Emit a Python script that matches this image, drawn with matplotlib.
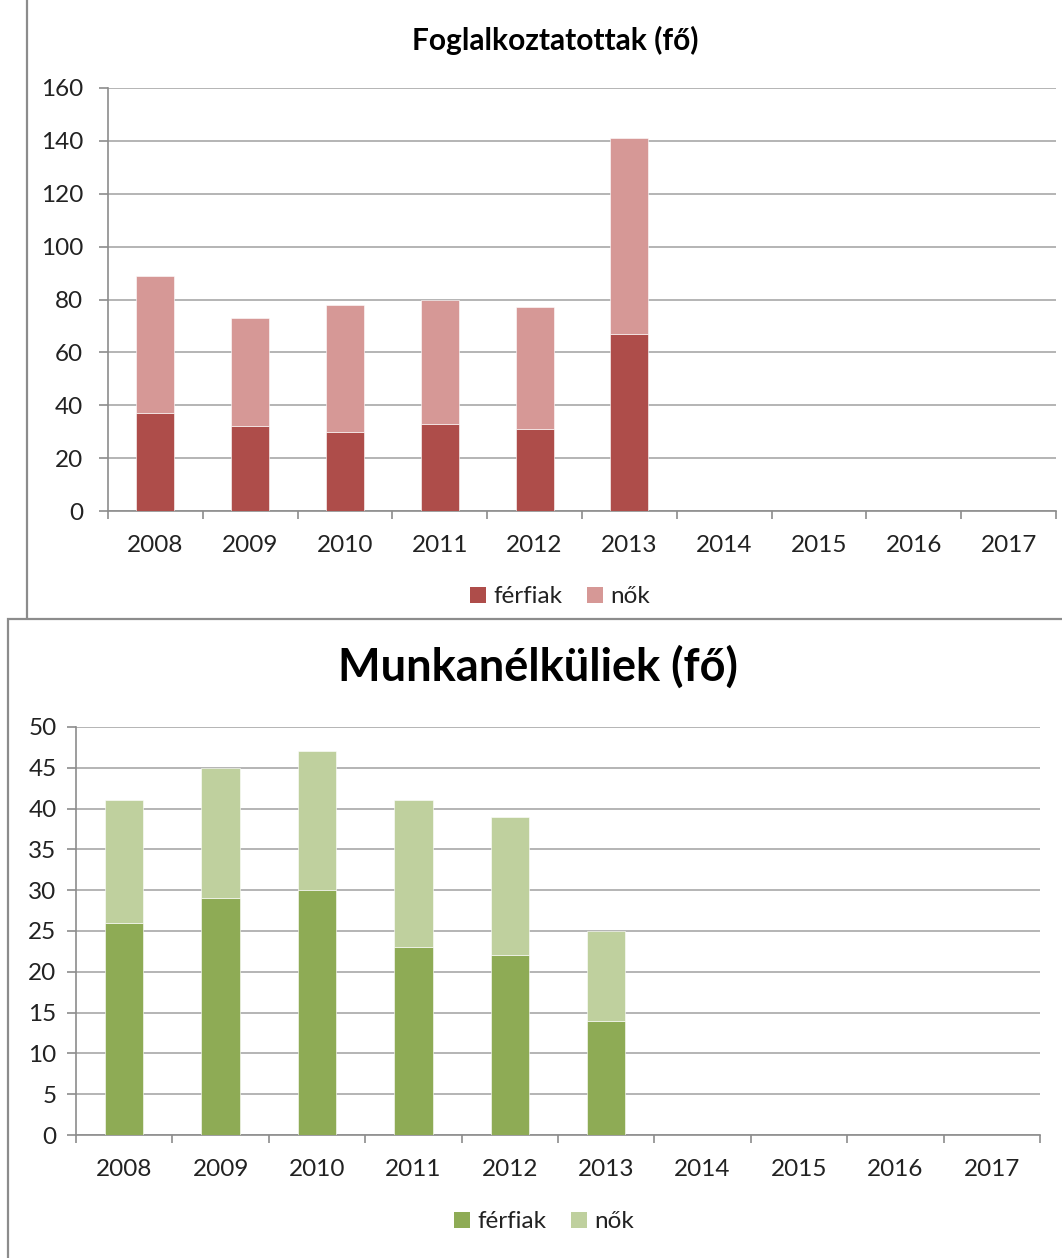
"""Two stacked-bar charts: employed and unemployed persons by sex, 2008-2017."""

import matplotlib

matplotlib.use("Agg")
import matplotlib.pyplot as plt
from matplotlib.patches import Patch, Rectangle

YEARS = ["2008", "2009", "2010", "2011", "2012", "2013", "2014", "2015", "2016", "2017"]

# Foglalkoztatottak (fő) - values only exist up to 2013
EMP_FERFIAK = [37, 32, 30, 33, 31, 67]
EMP_NOK = [52, 41, 48, 47, 46, 74]

# Munkanélküliek (fő)
UNEMP_FERFIAK = [26, 29, 30, 23, 22, 14]
UNEMP_NOK = [15, 16, 17, 18, 17, 11]

RED_DARK = "#AE4D4A"
RED_LIGHT = "#D69896"
GREEN_DARK = "#8EAB55"
GREEN_LIGHT = "#BFD09E"

GRID = "#A8A8A8"
AXIS = "#8C8C8C"
TEXT = "#222222"

plt.rcParams["font.family"] = ["Lato", "DejaVu Sans"]

W, H = 1062, 1258
fig = plt.figure(figsize=(W / 100, H / 100), dpi=100)


def px_box(left, top, right, bottom):
    return [left / W, 1 - bottom / H, (right - left) / W, (bottom - top) / H]


# chart frames (top chart frame sits behind the bottom one)
fig.patches.append(
    Rectangle((26.5 / W, 0.4), 1.2, 0.7, transform=fig.transFigure,
              facecolor="white", edgecolor=AXIS, linewidth=1.6, zorder=0)
)
fig.patches.append(
    Rectangle((7.5 / W, -0.2), 1.2, 0.2 + (H - 619.5) / H, transform=fig.transFigure,
              facecolor="white", edgecolor=AXIS, linewidth=1.6, zorder=1)
)


def draw_chart(rect, men, women, c_men, c_women, ymax, ystep, xtick_len, xpad, ypad):
    ax = fig.add_axes(rect, zorder=2)
    ax.set_facecolor("none")
    x = list(range(len(men)))
    ax.bar(x, men, width=0.4, color=c_men, edgecolor="white", linewidth=0.4, zorder=3)
    ax.bar(x, women, width=0.4, bottom=men, color=c_women, edgecolor="white",
           linewidth=0.4, zorder=3)

    ax.set_xlim(-0.5, len(YEARS) - 0.5)
    ax.set_ylim(0, ymax)
    ax.set_yticks(range(0, ymax + 1, ystep))
    ax.yaxis.grid(True, color=GRID, linewidth=1.2)
    ax.set_axisbelow(True)

    ax.set_xticks([i - 0.5 for i in range(len(YEARS) + 1)])
    ax.set_xticklabels([])
    ax.set_xticks(range(len(YEARS)), minor=True)
    ax.set_xticklabels(YEARS, minor=True)
    ax.tick_params(axis="x", which="major", length=xtick_len, width=1.2, color=AXIS,
                   direction="out")
    ax.tick_params(axis="x", which="minor", length=0, pad=xpad, labelsize=17.5,
                   labelcolor=TEXT)
    ax.tick_params(axis="y", length=6.5, width=1.2, color=AXIS, pad=ypad,
                   labelsize=17.5, labelcolor=TEXT)

    for side in ("top", "right"):
        ax.spines[side].set_visible(False)
    for side in ("left", "bottom"):
        ax.spines[side].set_color(AXIS)
        ax.spines[side].set_linewidth(1.2)
    return ax


draw_chart(px_box(108, 88, 1056, 511), EMP_FERFIAK, EMP_NOK, RED_DARK, RED_LIGHT,
           160, 20, 5.5, 17, 11.5)
draw_chart(px_box(76, 727, 1040, 1135), UNEMP_FERFIAK, UNEMP_NOK, GREEN_DARK,
           GREEN_LIGHT, 50, 5, 6, 17.5, 7.5)

fig.text(555 / W, 1 - 40 / H, "Foglalkoztatottak (fő)", ha="center", va="center",
         fontsize=21.5, fontweight="bold", color="black")
fig.text(538 / W, 1 - 667 / H, "Munkanélküliek (fő)", ha="center", va="center",
         fontsize=32.5, fontweight="bold", color="black")


def add_legend(c_men, c_women, cx, cy):
    handles = [Patch(facecolor=c_men, edgecolor="none"),
               Patch(facecolor=c_women, edgecolor="none")]
    leg = fig.legend(handles, ["férfiak", "nők"], loc="center",
                     bbox_to_anchor=(cx / W, 1 - cy / H), ncol=2, frameon=False,
                     fontsize=17.5, handlelength=0.65, handleheight=0.65,
                     handletextpad=0.3, columnspacing=1.0, borderpad=0)
    for t in leg.get_texts():
        t.set_color(TEXT)
    leg.set_zorder(3)


add_legend(RED_DARK, RED_LIGHT, 560, 597)
add_legend(GREEN_DARK, GREEN_LIGHT, 544, 1222)

fig.savefig("out.png", dpi=100)
